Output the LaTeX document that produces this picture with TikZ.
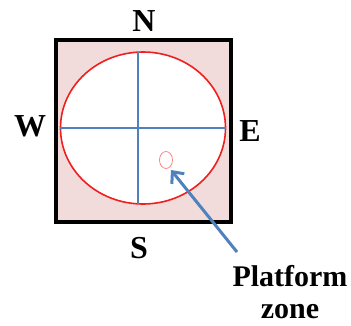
\documentclass[tikz,border=0pt]{standalone}
\usepackage{fontspec}
\setmainfont{Liberation Serif}
\usetikzlibrary{arrows.meta,shapes.geometric}
\definecolor{pinkfill}{RGB}{242,220,219}
\definecolor{ringred}{RGB}{240,30,30}
\definecolor{crossblue}{RGB}{79,129,189}
\definecolor{spotred}{RGB}{255,120,120}
\tikzset{
  lbl/.style={font=\bfseries\fontsize{32}{32}\selectfont, inner sep=0pt},
  crossline/.style={draw=crossblue, line width=1.3pt},
  pointer/.style={draw=crossblue, line width=3pt, -{Straight Barb[length=9pt,width=16pt,line width=3pt]}}
}
\begin{document}
\begin{tikzpicture}[x=1pt,y=-1pt]
\useasboundingbox (0,0) rectangle (351,325);
% pool square
\draw[fill=pinkfill, line width=4pt] (56,40) rectangle (231,222);
% pool ellipse
\node[ellipse, draw=ringred, fill=white, line width=1.6pt, minimum width=165pt, minimum height=152pt, inner sep=0pt] (pool) at (143,128) {};
% cross
\coordinate (ctop) at (138,52);
\coordinate (cbot) at (138,204);
\draw[crossline] (ctop) -- (cbot);
\draw[crossline] (pool.west) -- (pool.east);
% platform zone
\node[ellipse, draw=spotred, line width=0.7pt, minimum width=13pt, minimum height=17pt, inner sep=0pt] (pz) at (166,160) {};
% labels
\node[lbl] (N) at (144,21) {N};
\node[lbl] (W) at (30,126) {W};
\node[lbl] (E) at (250,131) {E};
\node[lbl] (S) at (139,248) {S};
\node[lbl, align=center, font=\bfseries\fontsize{30}{32}\selectfont] (plat) at (290,292) {Platform\\zone};
% arrow
\coordinate (tail) at (237,252);
\coordinate (tip) at (171,170);
\draw[pointer] (tail) -- (tip);
\end{tikzpicture}
\end{document}
